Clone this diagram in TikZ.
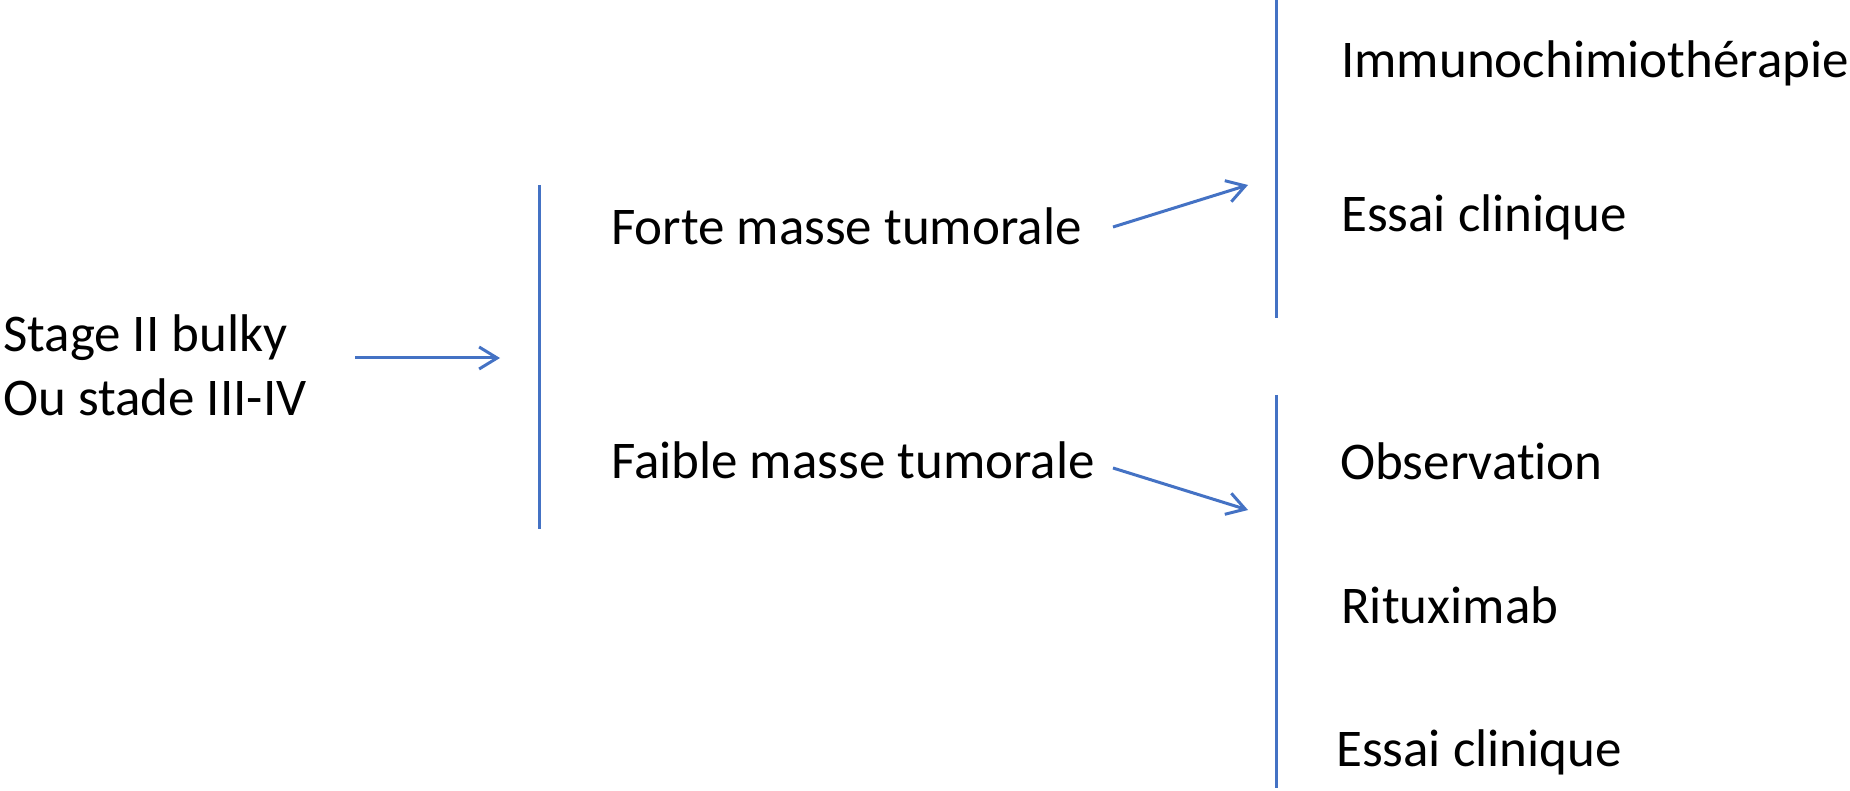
\documentclass[tikz,border=0pt]{standalone}
\usepackage{fontspec}
\setmainfont[Ligatures=NoCommon]{Carlito}
\usetikzlibrary{arrows.meta}
\definecolor{linkblue}{HTML}{4472C4}
\begin{document}
\begin{tikzpicture}[x=1pt,y=-1pt,
  label/.style={anchor=base west,inner sep=0pt,font=\fontsize{53}{64}\selectfont,text=black},
  bar/.style={draw=linkblue,line width=3pt},
  link/.style={draw=linkblue,line width=3pt,-{Straight Barb[length=18pt,width=22pt,line width=3pt]}}]
\useasboundingbox (0,0) rectangle (1850,791);

% starting condition (anchored on the baseline of its last line)
\node[label,align=left] (stage) at (3,416) {Stage II bulky\\Ou stade III-IV};

% tumour burden split
\node[label] (forte) at (611,245) {Forte masse tumorale};
\node[label] (faible) at (611,478) {Faible masse tumorale};

% treatment options
\node[label] (immuno) at (1341,78) {Immunochimiothérapie};
\node[label] (essai1) at (1341,232) {Essai clinique};
\node[label] (obs) at (1340,479) {Observation};
\node[label] (ritux) at (1341,623) {Rituximab};
\node[label] (essai2) at (1336,766) {Essai clinique};

% grouping bars
\coordinate (b1top) at (539,185);
\coordinate (b1bot) at (539,529);
\coordinate (b2top) at (1276,0);
\coordinate (b2bot) at (1276,318);
\coordinate (b3top) at (1276,395);
\coordinate (b3bot) at (1276,788);
\draw[bar] (b1top) -- (b1bot);
\draw[bar] (b2top) -- (b2bot);
\draw[bar] (b3top) -- (b3bot);

% arrow end points
\coordinate (a1s) at (355,358);
\coordinate (a1e) at (500,358);
\coordinate (a2s) at (1113,227);
\coordinate (a2e) at (1248,185);
\coordinate (a3s) at (1113,468);
\coordinate (a3e) at (1248,510);
\draw[link] (a1s) -- (a1e);
\draw[link] (a2s) -- (a2e);
\draw[link] (a3s) -- (a3e);
\end{tikzpicture}
\end{document}
